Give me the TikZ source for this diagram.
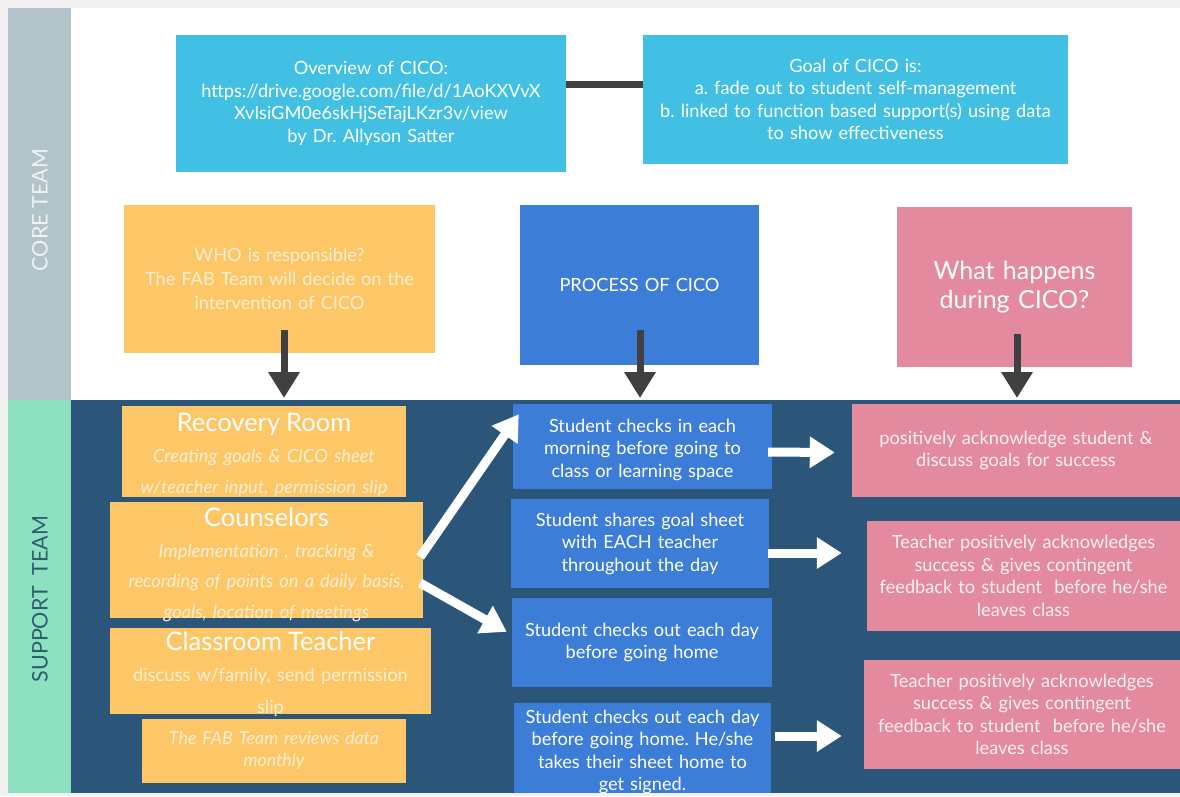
\documentclass[tikz,border=0pt]{standalone}
\usepackage{fontspec}
\setmainfont{Lato}
\frenchspacing
\usetikzlibrary{arrows.meta}
\definecolor{bgc}{HTML}{F1F1F1}
\definecolor{coreband}{HTML}{B3C3CA}
\definecolor{supband}{HTML}{8DE1C1}
\definecolor{navy}{HTML}{2C5679}
\definecolor{cyanb}{HTML}{41C0E3}
\definecolor{yel}{HTML}{FDC767}
\definecolor{blueb}{HTML}{3C7DD8}
\definecolor{pinkb}{HTML}{E38A9F}
\definecolor{dgray}{HTML}{404040}
\definecolor{paletxt}{HTML}{FFEFD2}
\definecolor{pinktxt}{HTML}{FDF0F3}
\definecolor{suptxt}{HTML}{2D5E6E}
\definecolor{coretxt}{HTML}{EEF2F4}
\begin{document}
\begin{tikzpicture}[x=1pt,y=-1pt,
  box/.style={rectangle, inner sep=0pt, align=center, text=white},
  txt/.style={inner sep=0pt, align=center, text=white},
  fs/.style={font=\fontsize{18.2}{22.5}\selectfont},
  darr/.style={draw=dgray, line width=7pt, -{Triangle[width=30pt,length=26pt]}},
  warr/.style={draw=white, line width=9pt, -{Triangle[width=30pt,length=25pt]}}]
\useasboundingbox (0,0) rectangle (1180,796);
\fill[bgc] (0,0) rectangle (1180,796);
\fill[white] (71,8) rectangle (1180,400);
\fill[navy] (71,400) rectangle (1180,793);
\fill[coreband] (8,8) rectangle (71,400);
\fill[supband] (8,400) rectangle (71,793);
\node[rotate=90, text=coretxt, font=\fontsize{21.5}{24}\selectfont] (core) at (40,210) {CORE TEAM};
\node[rotate=90, text=suptxt, font=\fontsize{21.5}{24}\selectfont] (sup) at (40,599) {SUPPORT\ \ TEAM};

% core team
\node[box, fs, fill=cyanb, minimum width=390pt, minimum height=137pt, text width=385pt] (ov) at (371,103.5)
  {Overview of CICO:\\https://drive.google.com/file/d/1AoKXVvX\\XvIsiGM0e6skHjSeTajLKzr3v/view\\by Dr. Allyson Satter};
\node[box, fs, fill=cyanb, minimum width=425pt, minimum height=129pt, text width=420pt] (goal) at (855.5,99.5)
  {Goal of CICO is:\\a. fade out to student self-management\\b. linked to function based support(s) using data\\to show effectiveness};
\draw[dgray, line width=7pt] ([yshift=19.5pt]ov.east) -- ([yshift=15.5pt]goal.west);

\node[box, fill=yel, text=paletxt, minimum width=311pt, minimum height=148pt, text width=305pt, font=\fontsize{18.2}{24}\selectfont] (who) at (279.5,279)
  {WHO is responsible?\\The FAB Team will decide on the\\intervention of CICO};
\node[box, fs, fill=blueb, minimum width=239pt, minimum height=160pt, text width=235pt] (proc) at (639.5,285) {PROCESS OF CICO};
\node[box, fill=pinkb, minimum width=235pt, minimum height=160pt, text width=230pt, font=\fontsize{25}{29}\selectfont] (what) at (1014.5,287) {What happens\\during CICO?};

\coordinate (e1) at (284,398);
\coordinate (e2) at (640,398);
\coordinate (e3) at (1017,398);
\draw[darr] ([xshift=4.5pt,yshift=23pt]who.south) -- (e1);
\draw[darr] ([xshift=0.5pt,yshift=35pt]proc.south) -- (e2);
\draw[darr] ([xshift=2.5pt,yshift=33pt]what.south) -- (e3);

% support team - yellow
\node[box, fill=yel, minimum width=284pt, minimum height=91pt] (rr) at (264,451.5) {};
\node[txt, text=paletxt, text width=284pt, font=\itshape\fontsize{18.3}{31}\selectfont] (rrt) at ([yshift=-3.5pt]rr.center)
  {{\color{white}\upshape\fontsize{25.5}{31}\selectfont Recovery Room}\\Creating goals \& CICO sheet\\w/teacher input, permission slip};
\node[box, fill=yel, minimum width=313pt, minimum height=116pt] (cou) at (266.5,560) {};
\node[txt, text=paletxt, text width=313pt, font=\itshape\fontsize{18.3}{30.5}\selectfont] (cout) at ([yshift=-5pt]cou.center)
  {{\color{white}\upshape\fontsize{25.5}{30.5}\selectfont Counselors}\\Implementation , tracking \&\\recording of points on a daily basis,\\goals, location of meetings};
\node[box, fill=yel, minimum width=321pt, minimum height=86pt] (ct) at (270.5,671) {};
\node[txt, text=paletxt, text width=321pt, font=\fontsize{18.3}{31.5}\selectfont] (ctt) at ([yshift=-3pt]ct.center)
  {{\color{white}\fontsize{25.5}{31.5}\selectfont Classroom Teacher}\\discuss w/family, send permission\\slip};
\node[box, fill=yel, minimum width=264pt, minimum height=64pt, text width=260pt, text=paletxt, font=\itshape\fontsize{17.8}{22.5}\selectfont] (fab) at (274,750.5)
  {The FAB Team reviews data\\monthly};

% blue
\node[box, fill=blueb, minimum width=259pt, minimum height=85pt] (b1) at (642.5,446.5) {};
\node[txt, fs, text width=255pt] (b1t) at ([yshift=-3pt]b1.center)
  {Student checks in each\\morning before going to\\class or learning space};
\node[box, fs, fill=blueb, minimum width=258pt, minimum height=89pt, text width=255pt] (b2) at (640,543.5)
  {Student shares goal sheet\\with EACH teacher\\throughout the day};
\node[box, fs, fill=blueb, minimum width=260pt, minimum height=89pt, text width=255pt] (b3) at (642,642.5)
  {Student checks out each day\\before going home};
\node[box, fill=blueb, minimum width=257pt, minimum height=90pt] (b4) at (642.5,748) {};
\node[txt, fs, text width=255pt] (b4t) at ([yshift=-4pt]b4.center)
  {Student checks out each day\\before going home. He/she\\takes their sheet home to\\get signed.};

% pink
\node[box, fs, fill=pinkb, text=pinktxt, minimum width=328pt, minimum height=93pt, text width=325pt] (p1) at (1016,450.5)
  {positively acknowledge student \&\\discuss goals for success};
\node[box, fs, fill=pinkb, text=pinktxt, minimum width=313pt, minimum height=110pt, text width=310pt] (p2) at (1023.5,576)
  {Teacher positively acknowledges\\success \& gives contingent\\feedback to student\ \ before he/she\\leaves class};
\node[box, fs, fill=pinkb, text=pinktxt, minimum width=316pt, minimum height=109pt, text width=310pt] (p3) at (1022,714.5)
  {Teacher positively acknowledges\\success \& gives contingent\\feedback to student\ \ before he/she\\leaves class};

% white arrows
\draw[warr] ([xshift=-3pt,yshift=3pt]cou.east) -- ([xshift=6pt,yshift=-10.5pt]b1.north west);
\draw[warr] ([xshift=-3pt,yshift=-23pt]cou.east) -- ([xshift=-5pt,yshift=-34pt]b3.north west);
\draw[warr] ([xshift=-4pt,yshift=-5.5pt]b1.east) -- ([xshift=-17pt,yshift=-2pt]p1.west);
\draw[warr] ([xshift=-1pt,yshift=-9.5pt]b2.east) -- ([xshift=-25pt,yshift=23pt]p2.west);
\draw[warr] ([xshift=4pt,yshift=12pt]b4.east) -- ([xshift=-22pt,yshift=-21.5pt]p3.west);
\end{tikzpicture}
\end{document}
